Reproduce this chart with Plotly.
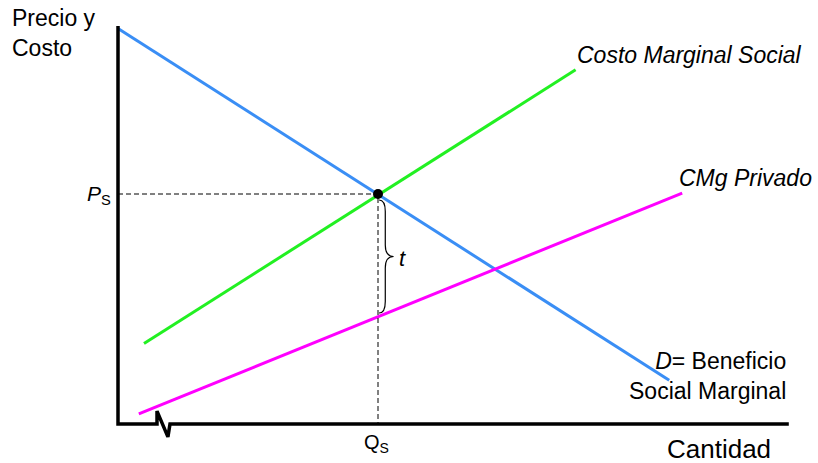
import plotly.graph_objects as go

# ---- data (quantity on x, price/cost on y) ----
demand_q = [0.0, 10.6]          # D = Beneficio Social Marginal
demand_p = [8.6, 0.95]
cms_q = [0.5, 8.8]              # Costo Marginal Social
cms_p = [1.75, 7.7]
cmg_priv_q = [0.4, 10.85]       # CMg Privado
cmg_priv_p = [0.22, 5.02]
q_s = 5.0                       # socially optimal quantity
p_s = 5.0                       # socially optimal price

# axis extents and the break mark on the quantity axis
q_axis_max = 12.9
p_axis_max = 8.65

# ---- pixel <-> data scale of the canvas ----
W, H = 818, 463
X0_PX, Y0_PX = 118, 424         # origin position
SX, SY = 52.0, 46.0             # pixels per unit
x_range = [-X0_PX / SX, (W - X0_PX) / SX]
y_range = [-(H - Y0_PX) / SY, Y0_PX / SY]


def px(x):
    return x / W


def py(y):
    return 1 - y / H


def interp(qs, ps, q):
    return ps[0] + (ps[1] - ps[0]) * (q - qs[0]) / (qs[1] - qs[0])


priv_at_qs = interp(cmg_priv_q, cmg_priv_p, q_s)

BLUE = "#3a8ef5"
GREEN = "#22f022"
MAGENTA = "#ff00ff"
FONT = "Liberation Sans, Arial, sans-serif"

fig = go.Figure()

# curves
fig.add_trace(go.Scatter(x=demand_q, y=demand_p, mode="lines",
                         line=dict(color=BLUE, width=3)))
fig.add_trace(go.Scatter(x=cms_q, y=cms_p, mode="lines",
                         line=dict(color=GREEN, width=3)))
fig.add_trace(go.Scatter(x=cmg_priv_q, y=cmg_priv_p, mode="lines",
                         line=dict(color=MAGENTA, width=3)))

# dashed guides to the axes
fig.add_trace(go.Scatter(x=[0, q_s, q_s], y=[p_s, p_s, 0], mode="lines",
                         line=dict(color="black", width=1, dash="5px,3px")))

# axes: vertical price axis and quantity axis with a break mark
brk = 0.75
fig.add_trace(go.Scatter(
    x=[0, 0, brk, brk, brk + 0.21, brk + 0.25, q_axis_max],
    y=[p_axis_max, 0, 0, 0.28, -0.28, 0, 0],
    mode="lines", line=dict(color="black", width=3.5)))

# equilibrium point
fig.add_trace(go.Scatter(x=[q_s], y=[p_s], mode="markers",
                         marker=dict(color="black", size=10)))

# curly brace showing the tax t between social and private marginal cost
yt = p_s - 0.13
yb = priv_at_qs + 0.08
ym = (yt + yb) / 2
xa = q_s + 0.02
xb = q_s + 0.14
xc = q_s + 0.30
d = 0.25
brace = (f"M {xa},{yt} Q {xb},{yt} {xb},{yt - d} "
         f"L {xb},{ym + d} Q {xb},{ym} {xc},{ym} "
         f"Q {xb},{ym} {xb},{ym - d} "
         f"L {xb},{yb + d} Q {xb},{yb} {xa},{yb}")
fig.add_shape(type="path", path=brace, xref="x", yref="y",
              line=dict(color="black", width=1.2))


def label(text, x, y, xanchor="left", size=23, italic=False, align="left"):
    fig.add_annotation(
        text=f"<i>{text}</i>" if italic else text,
        x=px(x), y=py(y), xref="paper", yref="paper",
        xanchor=xanchor, yanchor="middle", showarrow=False,
        align=align, borderpad=0,
        font=dict(family=FONT, size=size, color="black"))


label("Precio y<br>Costo", 11, 33, size=23)
label("Costo Marginal Social", 576, 55, italic=True)
label("CMg Privado", 678, 178, italic=True)
label("<i>D</i>= Beneficio<br>Social Marginal", 787, 376,
      xanchor="right", align="right", size=23)
label("Cantidad", 666, 449, size=26)
label("<i>P</i><sub>S</sub>", 112, 195, xanchor="right", size=21)
label("Q<sub>S</sub>", 376, 443, xanchor="center", size=20)
label("t", 402, 258, xanchor="center", size=22, italic=True)

fig.update_layout(
    width=W, height=H, autosize=False,
    margin=dict(l=0, r=0, t=0, b=0, pad=0),
    paper_bgcolor="white", plot_bgcolor="white",
    showlegend=False,
    xaxis=dict(range=x_range, visible=False, fixedrange=True),
    yaxis=dict(range=y_range, visible=False, fixedrange=True),
)

fig.write_html("out.html", config={"displayModeBar": False})
